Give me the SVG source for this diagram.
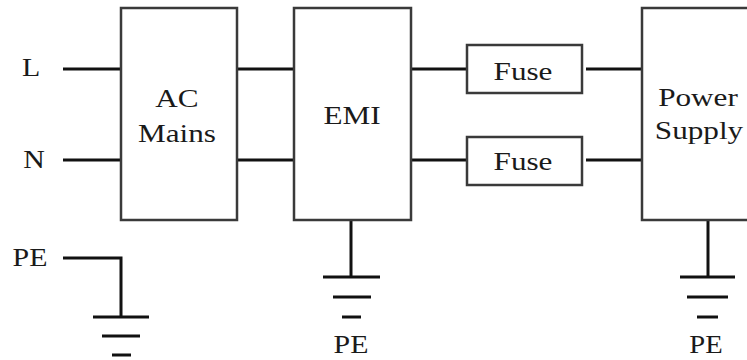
<svg xmlns="http://www.w3.org/2000/svg" width="747" height="360" viewBox="0 0 747 360">
<style>
.box{fill:#fff;stroke:#3a3a3a;stroke-width:2.5}
.w{stroke:#111;stroke-width:3;fill:none}
</style>
<rect width="747" height="360" fill="#fff"/>
<g id="connectors">
<line class="w" x1="63" y1="69" x2="121" y2="69"/>
<line class="w" x1="63" y1="160" x2="121" y2="160"/>
<polyline class="w" points="63,258 121,258 121,317"/>
<line class="w" x1="237" y1="69" x2="294" y2="69"/>
<line class="w" x1="237" y1="160" x2="294" y2="160"/>
<line class="w" x1="411" y1="69" x2="467" y2="69"/>
<line class="w" x1="411" y1="160" x2="467" y2="160"/>
<line class="w" x1="586" y1="69" x2="642" y2="69"/>
<line class="w" x1="586" y1="160" x2="642" y2="160"/>
<line class="w" x1="351" y1="220" x2="351" y2="277"/>
<line class="w" x1="708" y1="220" x2="708" y2="277"/>
</g>
<g id="labels" font-family="Liberation Serif" font-size="26" fill="#1a1a1a" text-anchor="middle">
<text transform="translate(31,76) scale(1.15,1)">L</text>
<text transform="translate(34,168) scale(1.15,1)">N</text>
<text transform="translate(30,266) scale(1.15,1)">PE</text>
</g>
<g id="ac-mains" font-family="Liberation Serif" font-size="26" fill="#1a1a1a" text-anchor="middle">
<rect class="box" x="121" y="8" width="116" height="212"/>
<text transform="translate(177,107) scale(1.2,1)">AC</text>
<text transform="translate(177,142) scale(1.2,1)">Mains</text>
</g>
<g id="emi" font-family="Liberation Serif" font-size="26" fill="#1a1a1a" text-anchor="middle">
<rect class="box" x="294" y="8" width="117" height="212"/>
<text transform="translate(352,124) scale(1.2,1)">EMI</text>
</g>
<g id="fuse1" font-family="Liberation Serif" font-size="26" fill="#1a1a1a" text-anchor="middle">
<rect class="box" x="467" y="45" width="115" height="48"/>
<text transform="translate(523,80) scale(1.2,1)">Fuse</text>
</g>
<g id="fuse2" font-family="Liberation Serif" font-size="26" fill="#1a1a1a" text-anchor="middle">
<rect class="box" x="467" y="137" width="115" height="48"/>
<text transform="translate(523,170) scale(1.2,1)">Fuse</text>
</g>
<g id="power-supply" font-family="Liberation Serif" font-size="26" fill="#1a1a1a" text-anchor="middle">
<rect class="box" x="642" y="8" width="120" height="212"/>
<text transform="translate(698,106) scale(1.2,1)">Power</text>
<text transform="translate(699,139) scale(1.2,1)">Supply</text>
</g>
<g id="ground-left">
<line class="w" x1="93" y1="317" x2="149" y2="317"/>
<line class="w" x1="102" y1="336" x2="140" y2="336"/>
<line class="w" x1="112" y1="355" x2="131" y2="355"/>
</g>
<g id="ground-emi" font-family="Liberation Serif" font-size="26" fill="#1a1a1a" text-anchor="middle">
<line class="w" x1="323" y1="277" x2="380" y2="277"/>
<line class="w" x1="333" y1="297" x2="371" y2="297"/>
<line class="w" x1="342" y1="317" x2="361" y2="317"/>
<text transform="translate(351,353) scale(1.15,1)">PE</text>
</g>
<g id="ground-ps" font-family="Liberation Serif" font-size="26" fill="#1a1a1a" text-anchor="middle">
<line class="w" x1="680" y1="277" x2="735" y2="277"/>
<line class="w" x1="687" y1="297" x2="728" y2="297"/>
<line class="w" x1="697" y1="317" x2="718" y2="317"/>
<text transform="translate(706,353) scale(1.1,1)">PE</text>
</g>
</svg>
